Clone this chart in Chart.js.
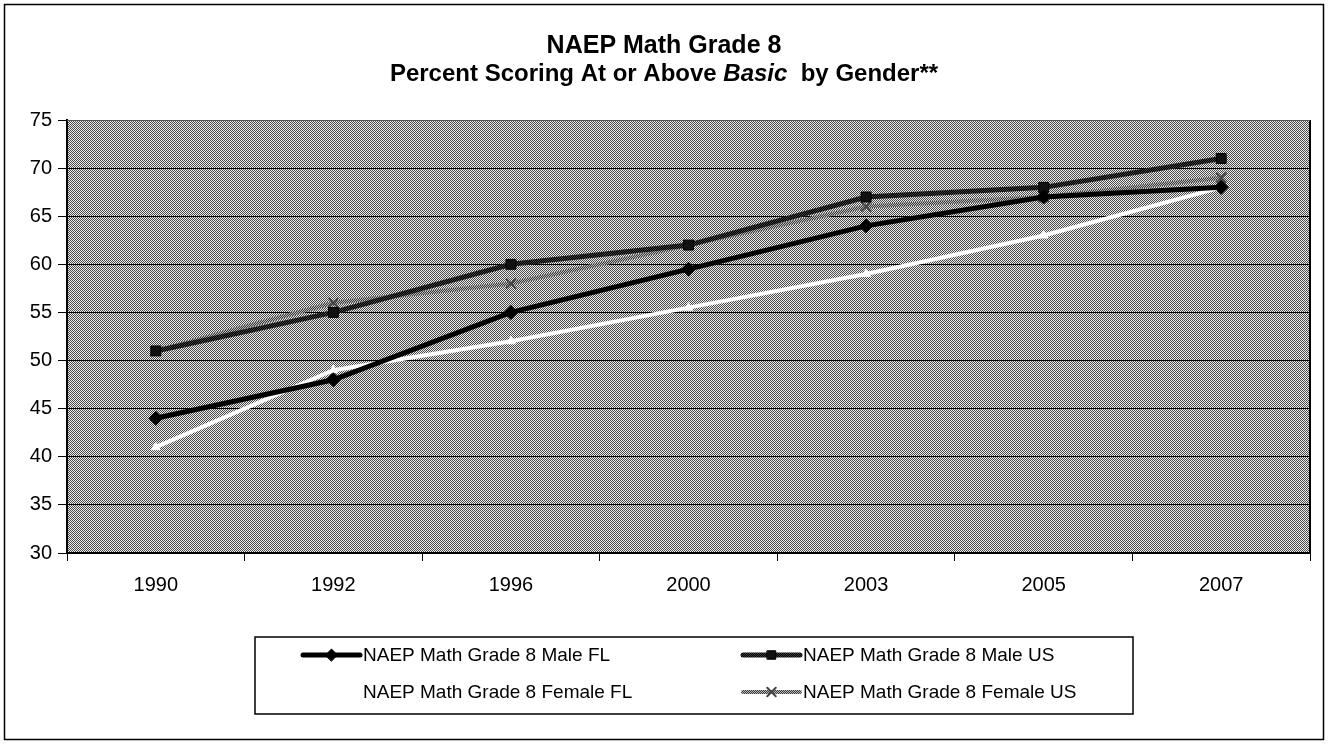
<!DOCTYPE html>
<html>
<head>
<meta charset="utf-8">
<script src="https://cdn.jsdelivr.net/npm/chart.js@4.4.1/dist/chart.umd.min.js"></script>
<style>
html,body{margin:0;padding:0;background:#fff;}
#wrap{width:1328px;height:744px;position:relative;}
</style>
</head>
<body>
<div id="wrap"><canvas id="c" width="1328" height="744"></canvas></div>
<script>
// ---- data ----
const years = ['1990', '1992', '1996', '2000', '2003', '2005', '2007'];
const maleFL = [44, 48, 55, 59.5, 64, 67, 68];
const maleUS = [51, 55, 60, 62, 67, 68, 71];
const femaleFL = [41, 49, 52, 55.5, 59, 63, 68];
const femaleUS = [51, 56, 58, 62, 66, 67, 69];
const seriesNames = ['NAEP Math Grade 8 Male FL', 'NAEP Math Grade 8 Male US', 'NAEP Math Grade 8 Female FL', 'NAEP Math Grade 8 Female US'];
const titleLine1 = 'NAEP Math Grade 8';
const titleLine2 = ['Percent Scoring At or Above ', 'Basic', '  by Gender**'];
const yMin = 30, yMax = 75, yStep = 5;

const FONT = "'Liberation Sans', Arial, sans-serif";

function checker(a, b) {
  const p = document.createElement('canvas');
  p.width = 2; p.height = 2;
  const g = p.getContext('2d');
  g.fillStyle = a; g.fillRect(0, 0, 2, 2);
  g.fillStyle = b; g.fillRect(0, 0, 1, 1); g.fillRect(1, 1, 1, 1);
  return g.createPattern(p, 'repeat');
}

const bgPattern = checker('#ececec', '#4a4a4a');
const maleUSColor = checker('#000000', '#3a3a3a');
const femaleUSColor = checker('#3a3a3a', '#b8b8b8');

const decor = {
  id: 'decor',
  beforeDraw(chart) {
    const { ctx, chartArea: a } = chart;
    ctx.save();
    ctx.fillStyle = '#fff';
    ctx.fillRect(0, 0, chart.width, chart.height);
    ctx.fillStyle = bgPattern;
    ctx.fillRect(a.left, a.top, a.right - a.left, a.bottom - a.top);
    ctx.restore();
  },
  afterDraw(chart) {
    const { ctx, chartArea: a } = chart;
    ctx.save();
    // plot right/top border
    ctx.strokeStyle = '#000';
    ctx.lineWidth = 2;
    ctx.beginPath();
    ctx.moveTo(a.right, a.top); ctx.lineTo(a.right, a.bottom);
    ctx.stroke();
    ctx.strokeStyle = '#555';
    ctx.lineWidth = 1;
    ctx.beginPath();
    ctx.moveTo(a.left, a.top + 0.5); ctx.lineTo(a.right, a.top + 0.5);
    ctx.stroke();
    // outer border
    ctx.strokeStyle = '#000';
    ctx.lineWidth = 1.5;
    ctx.strokeRect(4.5, 4.5, 1319, 735);

    // title
    const cx = 664;
    ctx.fillStyle = '#000';
    ctx.textBaseline = 'middle';
    ctx.textAlign = 'center';
    ctx.font = 'bold 25px ' + FONT;
    ctx.fillText(titleLine1, cx, 46);
    const fonts = ['bold 24px ' + FONT, 'italic bold 24px ' + FONT, 'bold 24px ' + FONT];
    let total = 0;
    const widths = titleLine2.map((s, i) => { ctx.font = fonts[i]; const w = ctx.measureText(s).width; total += w; return w; });
    let x = cx - total / 2;
    ctx.textAlign = 'left';
    titleLine2.forEach((s, i) => { ctx.font = fonts[i]; ctx.fillText(s, x, 74); x += widths[i]; });

    // legend
    const bx = 255, by = 637, bw = 878, bh = 77;
    ctx.lineWidth = 1.5;
    ctx.strokeStyle = '#000';
    ctx.fillStyle = '#fff';
    ctx.fillRect(bx, by, bw, bh);
    ctx.strokeRect(bx, by, bw, bh);
    const pos = [[303, 655], [743, 655], [303, 692], [743, 692]];
    chart.data.datasets.forEach((ds, i) => {
      const [mx, my] = pos[i];
      ctx.strokeStyle = ds.borderColor;
      ctx.lineWidth = ds.borderWidth;
      ctx.lineCap = 'round';
      ctx.beginPath();
      ctx.moveTo(mx, my); ctx.lineTo(mx + 57, my);
      ctx.stroke();
      ctx.fillStyle = ds.pointBackgroundColor;
      ctx.strokeStyle = ds.pointBorderColor;
      ctx.lineWidth = ds.pointBorderWidth || 1;
      Chart.helpers.drawPoint(ctx, {
        pointStyle: ds.pointStyle, radius: ds.pointRadius - 1, borderWidth: ds.pointBorderWidth || 1, rotation: 0
      }, mx + 28.5, my);
      ctx.fillStyle = '#000';
      ctx.font = '19px ' + FONT;
      ctx.textAlign = 'left';
      ctx.textBaseline = 'middle';
      ctx.fillText(ds.label, mx + 60, my + 1);
    });
    ctx.restore();
  }
};

new Chart(document.getElementById('c'), {
  type: 'line',
  data: {
    labels: years,
    datasets: [
      { label: seriesNames[0], data: maleFL, borderColor: '#000', backgroundColor: '#000', borderWidth: 5,
        pointStyle: 'rectRot', pointRadius: 7, pointBackgroundColor: '#000', pointBorderColor: '#000', pointBorderWidth: 1 },
      { label: seriesNames[1], data: maleUS, borderColor: maleUSColor, backgroundColor: '#000', borderWidth: 5,
        pointStyle: 'rect', pointRadius: 7, pointBackgroundColor: '#111', pointBorderColor: '#000', pointBorderWidth: 1 },
      { label: seriesNames[2], data: femaleFL, borderColor: '#fff', backgroundColor: '#fff', borderWidth: 4,
        pointStyle: 'triangle', pointRadius: 5, pointBackgroundColor: '#fff', pointBorderColor: '#fff', pointBorderWidth: 1 },
      { label: seriesNames[3], data: femaleUS, borderColor: femaleUSColor, backgroundColor: '#555', borderWidth: 4,
        pointStyle: 'crossRot', pointRadius: 7, pointBackgroundColor: '#444', pointBorderColor: '#444', pointBorderWidth: 2 }
    ]
  },
  options: {
    responsive: false,
    animation: false,
    devicePixelRatio: 1,
    layout: { padding: { top: 120, right: 18, left: 0, bottom: 0 } },
    plugins: { legend: { display: false }, title: { display: false }, tooltip: { enabled: false } },
    elements: { line: { tension: 0 } },
    scales: {
      x: {
        type: 'category',
        offset: true,
        afterFit(s) { s.height = 191; },
        grid: { offset: true, drawOnChartArea: false, drawTicks: true, tickLength: 8, color: '#000', lineWidth: 1 },
        border: { color: '#000', width: 2 },
        ticks: { color: '#000', font: { family: FONT, size: 20 }, padding: 12, maxRotation: 0 }
      },
      y: {
        min: yMin, max: yMax,
        afterFit(s) { s.width = 67; },
        grid: { color: '#000', lineWidth: 1, drawTicks: true, tickLength: 9 },
        border: { color: '#000', width: 2 },
        ticks: { stepSize: yStep, color: '#000', font: { family: FONT, size: 20 }, padding: 6 }
      }
    }
  },
  plugins: [decor]
});
</script>
</body>
</html>
